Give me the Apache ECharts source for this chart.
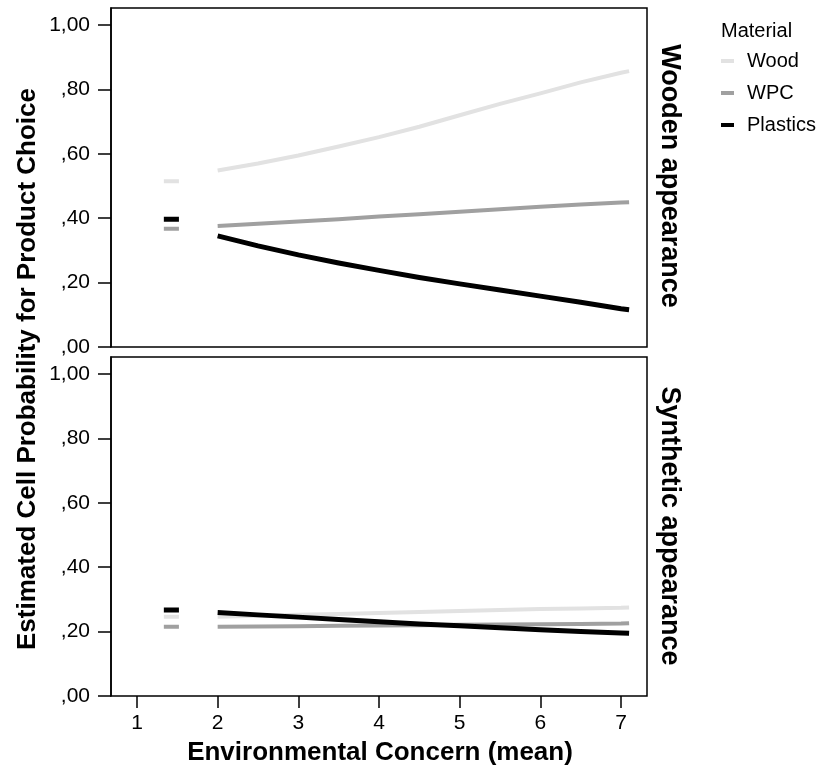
<!DOCTYPE html>
<html>
<head>
<meta charset="utf-8">
<script src="https://cdn.jsdelivr.net/npm/echarts@6/dist/echarts.min.js"></script>
<style>html,body{margin:0;padding:0;background:#fff;}#c{width:819px;height:772px;}</style>
</head>
<body>
<div id="c"></div>
<script>
// ---- data ----
const materials = ['Wood', 'WPC', 'Plastics'];
const panels = ['Wooden appearance', 'Synthetic appearance'];
const xTicks = [1, 2, 3, 4, 5, 6, 7];
const yTicks = [0, 0.2, 0.4, 0.6, 0.8, 1.0];
const dashX = [1.333, 1.52];
const lineX = [2, 2.5, 3, 3.5, 4, 4.5, 5, 5.5, 6, 6.5, 7, 7.1];

// Wooden appearance panel
const woodenDash = { Wood: 0.515, WPC: 0.367, Plastics: 0.397 };
const woodenWood = [0.548, 0.570, 0.595, 0.623, 0.652, 0.684, 0.720, 0.755, 0.788, 0.822, 0.852, 0.857];
const woodenWPC = [0.376, 0.383, 0.390, 0.397, 0.405, 0.412, 0.420, 0.428, 0.436, 0.443, 0.449, 0.450];
const woodenPlastics = [0.345, 0.314, 0.286, 0.261, 0.238, 0.216, 0.196, 0.177, 0.158, 0.139, 0.119, 0.116];

// Synthetic appearance panel
const synthDash = { Wood: 0.246, WPC: 0.215, Plastics: 0.267 };
const synthWood = [0.246, 0.249, 0.252, 0.255, 0.258, 0.261, 0.264, 0.267, 0.270, 0.272, 0.274, 0.275];
const synthWPC = [0.215, 0.216, 0.217, 0.218, 0.219, 0.220, 0.221, 0.222, 0.223, 0.224, 0.225, 0.226];
const synthPlastics = [0.259, 0.252, 0.245, 0.238, 0.231, 0.224, 0.218, 0.212, 0.206, 0.200, 0.196, 0.195];

// ---- styles ----
const colors = { Wood: '#e2e2e2', WPC: '#a0a0a0', Plastics: '#000000' };
const widths = { Wood: 4, WPC: 4, Plastics: 5 };
const FONT = 'Liberation Sans, Arial, sans-serif';

function buildData(dashVal, vals) {
  const d = dashX.map(x => [x, dashVal]);
  d.push([1.75, '-']);
  lineX.forEach((x, i) => d.push([x, vals[i]]));
  return d;
}

const panelData = [
  { dash: woodenDash, Wood: woodenWood, WPC: woodenWPC, Plastics: woodenPlastics },
  { dash: synthDash, Wood: synthWood, WPC: synthWPC, Plastics: synthPlastics }
];

const series = [];
panelData.forEach((p, gi) => {
  materials.forEach((m, mi) => {
    series.push({
      name: m, type: 'line', xAxisIndex: gi, yAxisIndex: gi,
      data: buildData(p.dash[m], p[m]),
      showSymbol: false, symbol: 'none', connectNulls: false,
      color: colors[m], z: 2 + mi,
      lineStyle: { color: colors[m], width: widths[m], cap: 'butt', join: 'miter' },
      emphasis: { disabled: true }, animation: false
    });
  });
});

const gridL = 111, gridW = 536, gridH = 339;
const grids = [
  { left: gridL, top: 8, width: gridW, height: gridH },
  { left: gridL, top: 357, width: gridW, height: gridH }
].map(g => Object.assign(g, { show: true, borderColor: '#000', borderWidth: 1.5, backgroundColor: 'transparent', containLabel: false }));

const xAxes = [0, 1].map(gi => ({
  type: 'value', gridIndex: gi, min: 0.678, max: 7.322,
  axisLine: { show: false },
  splitLine: { show: false },
  axisTick: { show: gi === 1, customValues: xTicks, length: 12, lineStyle: { color: '#000', width: 1.5 } },
  axisLabel: { show: gi === 1, customValues: xTicks, fontSize: 21, color: '#000', fontFamily: FONT, margin: 17 }
}));

const fmtY = v => {
  const s = v.toFixed(2).replace('.', ',');
  return s.startsWith('0') ? s.slice(1) : s;
};

const yAxes = [0, 1].map(gi => ({
  type: 'value', gridIndex: gi, min: 0, max: 1.053,
  axisLine: { show: true, lineStyle: { color: '#000', width: 1.5 } },
  splitLine: { show: false },
  axisTick: { show: true, customValues: yTicks, length: 13, lineStyle: { color: '#000', width: 1.5 } },
  axisLabel: { show: true, customValues: yTicks, formatter: fmtY, fontSize: 21, color: '#000', fontFamily: FONT, margin: 21 }
}));

const chart = echarts.init(document.getElementById('c'), null, { renderer: 'canvas' });
chart.setOption({
  animation: false,
  backgroundColor: '#fff',
  title: { text: 'Material', left: 716, top: 16, textStyle: { fontSize: 20, fontWeight: 'normal', color: '#000', fontFamily: FONT } },
  legend: {
    data: materials, orient: 'vertical', left: 716, top: 46,
    icon: 'rect', itemWidth: 13, itemHeight: 4, itemGap: 12,
    selectedMode: false,
    textStyle: { fontSize: 20, color: '#000', fontFamily: FONT, padding: [0, 0, 0, 8] }
  },
  grid: grids,
  xAxis: xAxes,
  yAxis: yAxes,
  series: series,
  graphic: [
    { type: 'text', x: 380, y: 753, style: { text: 'Environmental Concern (mean)', font: 'bold 26px ' + FONT, fill: '#000', align: 'center', verticalAlign: 'middle' } },
    { type: 'text', x: 28, y: 369, rotation: Math.PI / 2, style: { text: 'Estimated Cell Probability for Product Choice', font: 'bold 26px ' + FONT, fill: '#000', align: 'center', verticalAlign: 'middle' } },
    { type: 'text', x: 669, y: 176, rotation: -Math.PI / 2, style: { text: panels[0], font: 'bold 27px ' + FONT, fill: '#000', align: 'center', verticalAlign: 'middle' } },
    { type: 'text', x: 669, y: 526, rotation: -Math.PI / 2, style: { text: panels[1], font: 'bold 27px ' + FONT, fill: '#000', align: 'center', verticalAlign: 'middle' } }
  ]
});
</script>
</body>
</html>
